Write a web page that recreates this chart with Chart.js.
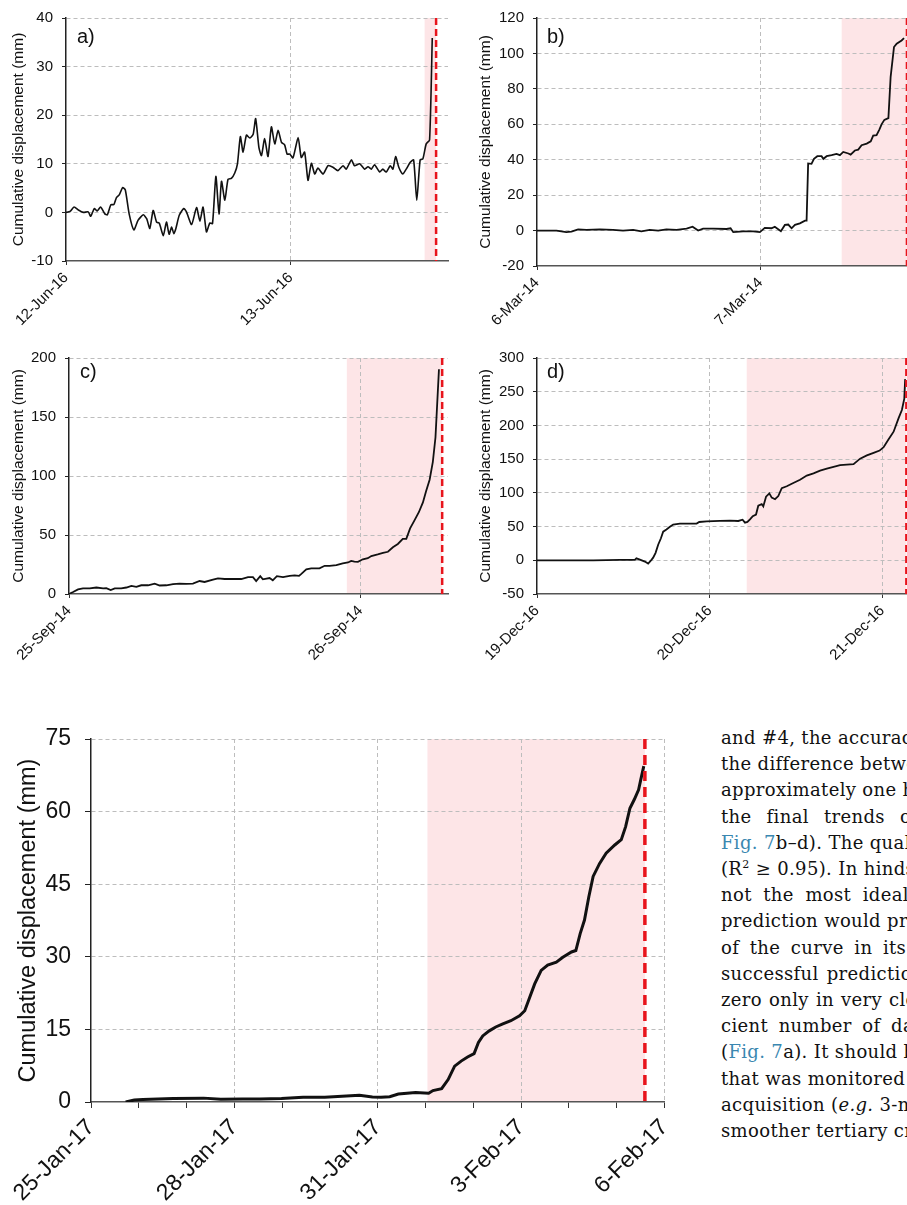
<!DOCTYPE html>
<html>
<head>
<meta charset="utf-8">
<script src="https://cdn.jsdelivr.net/npm/chart.js@4.4.0/dist/chart.umd.min.js"></script>
<style>
  html, body { margin: 0; padding: 0; background: #fff; }
  body { width: 907px; height: 1205px; overflow: hidden; position: relative; }
  canvas { position: absolute; }
  .tag { position: absolute; font: 20px 'Liberation Sans', Arial, sans-serif; line-height: 20px; color: #111; }
  #text { position: absolute; left: 721px; top: 725px; font-family: 'DejaVu Serif', serif; font-size: 18px;
          letter-spacing: 0.35px; line-height: 26.2px; color: #111; white-space: nowrap; }
  #text a { color: #3a87b0; text-decoration: none; }
  #text sup { font-size: 11px; line-height: 0; }
</style>
</head>
<body>
<canvas id="chartA" width="460" height="340" style="left:0;top:0"></canvas>
<canvas id="chartB" width="470" height="340" style="left:460px;top:0"></canvas>
<canvas id="chartC" width="460" height="330" style="left:0;top:340px"></canvas>
<canvas id="chartD" width="470" height="330" style="left:460px;top:340px"></canvas>
<canvas id="chartE" width="690" height="505" style="left:0;top:700px"></canvas>

<div class="tag" style="left:77px;top:26px">a)</div>
<div class="tag" style="left:547px;top:26px">b)</div>
<div class="tag" style="left:80px;top:361px">c)</div>
<div class="tag" style="left:547px;top:361px">d)</div>

<div id="text">
  <div>and #4, the accuracy</div>
  <div>the difference between</div>
  <div>approximately one hour</div>
  <div style="word-spacing:9px">the final trends of</div>
  <div><a>Fig. 7</a>b–d). The quality</div>
  <div>(R<sup>2</sup> ≥ 0.95). In hindsight,</div>
  <div style="word-spacing:5.5px">not the most ideal</div>
  <div>prediction would provide</div>
  <div style="word-spacing:4.5px">of the curve in its</div>
  <div style="word-spacing:2px">successful prediction</div>
  <div style="word-spacing:1px">zero only in very close</div>
  <div style="word-spacing:4.5px">cient number of data</div>
  <div>(<a>Fig. 7</a>a). It should be</div>
  <div>that was monitored by</div>
  <div>acquisition (<i>e.g.</i> 3-min</div>
  <div>smoother tertiary creep</div>
</div>

<script>
// time since start of each record (days) and cumulative displacement (mm)
const aDays = [0, 0.018, 0.036, 0.055, 0.077, 0.099, 0.110, 0.126, 0.139, 0.154, 0.173, 0.184, 0.200, 0.213, 0.225,
  0.237, 0.252, 0.264, 0.281, 0.302, 0.321, 0.344, 0.359, 0.373, 0.388, 0.403, 0.415, 0.433, 0.447, 0.459, 0.470,
  0.480, 0.489, 0.504, 0.524, 0.536, 0.559, 0.581, 0.596, 0.610, 0.625, 0.640, 0.652, 0.667, 0.681, 0.692, 0.707,
  0.721, 0.736, 0.751, 0.763, 0.776, 0.788, 0.803, 0.818, 0.833, 0.844, 0.859, 0.870, 0.884, 0.899, 0.914, 0.929,
  0.944, 0.959, 0.973, 0.984, 0.996, 1.010, 1.033, 1.047, 1.062, 1.077, 1.092, 1.107, 1.121, 1.144, 1.166, 1.188,
  1.210, 1.233, 1.247, 1.270, 1.284, 1.307, 1.329, 1.344, 1.359, 1.373, 1.396, 1.410, 1.425, 1.443, 1.455, 1.467,
  1.481, 1.499, 1.514, 1.532, 1.547, 1.561, 1.576, 1.588, 1.603, 1.618, 1.630];
const aDisp = [0, 0.2, 1.1, 0.5, 0, 0.1, -0.8, 0.8, 0.3, 1.1, -0.3, -0.5, 1.6, 1.6, 3.1, 3.6, 5.1, 4.6, -0.3, -3.6,
  -1.6, -0.5, -1.3, -3.3, 0.4, -2.0, -2.2, -4.8, -2.0, -4.5, -3.0, -4.4, -3.3, -0.6, 0.8, 0.1, -2.5, 1.0, -1.8, 1.1,
  -4.0, -2.2, -2.3, 7.4, -0.3, 6.4, 2.5, 6.8, 7.0, 8.1, 10.0, 15.6, 12.4, 15.9, 15.3, 16.1, 19.3, 13.2, 11.7, 15.2,
  11.5, 17.6, 14.1, 16.9, 14.4, 13.9, 12.0, 12.0, 11.2, 15.4, 11.3, 12.4, 6.6, 10.1, 7.9, 9.1, 7.9, 9.6, 9.3, 8.6,
  9.6, 8.9, 10.8, 9.6, 10.0, 8.9, 9.4, 8.9, 9.8, 8.3, 8.9, 8.3, 9.6, 8.9, 11.5, 9.3, 7.9, 8.9, 10.3, 10.8, 2.5, 10.8,
  11.0, 14.1, 14.9, 35.9];

const bDays = [0, 0.042, 0.087, 0.131, 0.154, 0.184, 0.221, 0.281, 0.340, 0.385, 0.430, 0.467, 0.504, 0.542, 0.579,
  0.624, 0.669, 0.696, 0.721, 0.743, 0.788, 0.848, 0.866, 0.878, 0.922, 0.967, 0.997, 1.019, 1.049, 1.064, 1.091,
  1.109, 1.124, 1.139, 1.154, 1.176, 1.199, 1.206, 1.213, 1.228, 1.239, 1.254, 1.273, 1.281, 1.296, 1.318, 1.340,
  1.355, 1.370, 1.393, 1.403, 1.422, 1.437, 1.452, 1.475, 1.493, 1.504, 1.519, 1.531, 1.542, 1.554, 1.572, 1.582,
  1.597, 1.609, 1.631, 1.642];
const bDisp = [0, 0, 0, -0.9, -0.6, 0.7, 0.4, 0.7, 0.4, 0, 0.4, -0.4, 0.4, 0, 0.7, 0.4, 1.1, 2.2, 0, 1.1, 1.1, 0.9,
  1.3, -0.9, -0.4, -0.4, -0.9, 1.5, 1.3, 2.2, -0.4, 3.2, 3.4, 1.3, 3.2, 4.1, 5.6, 5.6, 37.9, 37.7, 40.5, 42.0, 42.0,
  40.5, 42.0, 42.6, 43.3, 42.6, 44.4, 43.5, 42.9, 45.2, 45.7, 48.2, 49.1, 50.4, 53.6, 53.8, 56.9, 60.1, 62.5, 63.5,
  86.8, 103.6, 105.5, 107.3, 108.6];

const cDays = [0, 0.014, 0.031, 0.048, 0.071, 0.094, 0.117, 0.128, 0.143, 0.157, 0.179, 0.197, 0.214, 0.231, 0.248,
  0.271, 0.294, 0.311, 0.334, 0.357, 0.379, 0.402, 0.425, 0.448, 0.465, 0.494, 0.511, 0.534, 0.562, 0.591, 0.614,
  0.631, 0.642, 0.656, 0.665, 0.688, 0.699, 0.713, 0.734, 0.757, 0.774, 0.789, 0.797, 0.814, 0.831, 0.859, 0.877,
  0.894, 0.917, 0.939, 0.957, 0.968, 0.979, 0.991, 1.008, 1.025, 1.037, 1.059, 1.077, 1.094, 1.111, 1.128, 1.145,
  1.157, 1.170, 1.185, 1.200, 1.214, 1.225, 1.237, 1.248, 1.257, 1.269];
const cDisp = [0, 1.7, 3.9, 4.8, 4.8, 5.5, 4.8, 5.0, 3.3, 4.8, 4.8, 5.5, 6.9, 6.1, 7.4, 7.4, 8.8, 7.2, 7.4, 8.3,
  8.8, 8.5, 8.8, 11.0, 10.2, 12.1, 13.2, 12.7, 12.9, 12.7, 14.3, 14.3, 11.0, 15.1, 12.4, 13.5, 11.6, 15.1, 14.3,
  15.4, 15.7, 15.4, 17.1, 20.9, 21.7, 21.7, 23.9, 23.9, 24.5, 25.9, 26.7, 28.1, 27.5, 27.2, 29.4, 30.3, 32.2, 33.6,
  34.9, 35.8, 39.6, 42.4, 46.8, 46.8, 55.6, 62.4, 69.3, 77.6, 87.2, 96.8, 112.0, 132.6, 190.4];

const dDays = [0, 0.132, 0.325, 0.480, 0.567, 0.576, 0.596, 0.625, 0.644, 0.658, 0.673, 0.687, 0.702, 0.718, 0.731,
  0.750, 0.770, 0.789, 0.828, 0.886, 0.925, 0.940, 0.983, 1.060, 1.118, 1.166, 1.191, 1.205, 1.219, 1.234, 1.250,
  1.269, 1.282, 1.302, 1.311, 1.327, 1.346, 1.360, 1.379, 1.398, 1.418, 1.447, 1.485, 1.524, 1.563, 1.602, 1.640,
  1.679, 1.718, 1.756, 1.795, 1.834, 1.872, 1.911, 1.950, 1.985, 2.008, 2.037, 2.066, 2.095, 2.114, 2.128, 2.133];
const dDisp = [0, 0, 0, 0.5, 0.5, 2.9, 1.0, -1.9, -4.8, -1.0, 3.9, 11.1, 23.1, 32.7, 42.4, 45.7, 49.6, 53.0, 54.4,
  54.4, 54.4, 56.8, 57.8, 58.3, 58.7, 58.3, 60.2, 55.8, 56.8, 60.7, 65.5, 67.9, 80.9, 83.3, 79.9, 94.4, 99.2, 92.9,
  90.5, 95.3, 106.9, 109.8, 114.6, 119.4, 125.7, 129.0, 132.9, 135.8, 138.7, 141.1, 142.0, 142.5, 150.7, 155.5,
  159.4, 162.7, 167.6, 179.6, 190.7, 210.9, 222.9, 239.8, 268.7];

const eDays = [0.725, 0.906, 1.087, 1.721, 2.355, 2.717, 3.170, 3.533, 3.986, 4.438, 4.891, 5.344, 5.616, 5.888,
  6.069, 6.250, 6.431, 6.793, 7.065, 7.156, 7.337, 7.473, 7.609, 7.745, 7.880, 8.016, 8.107, 8.197, 8.333, 8.469,
  8.605, 8.786, 8.967, 9.076, 9.167, 9.284, 9.420, 9.556, 9.737, 9.873, 10.054, 10.145, 10.236, 10.326, 10.417,
  10.507, 10.643, 10.779, 10.960, 11.096, 11.187, 11.277, 11.368, 11.458, 11.504, 11.567];
const eDisp = [0, 0.4, 0.5, 0.7, 0.8, 0.55, 0.6, 0.6, 0.7, 1.0, 1.0, 1.25, 1.4, 1.05, 1.0, 1.1, 1.66, 1.94, 1.8,
  2.36, 2.77, 4.64, 7.4, 8.45, 9.3, 10.0, 12.3, 13.65, 14.7, 15.5, 16.1, 16.8, 17.8, 18.85, 21.3, 24.4, 27.2, 28.3,
  28.9, 29.9, 31.0, 31.3, 34.8, 37.6, 42.4, 46.6, 49.3, 51.4, 53.1, 54.2, 56.9, 60.7, 62.5, 64.5, 66.6, 69.4];

// date tick labels, one per day from the start of each record
const aLabels = ['12-Jun-16', '13-Jun-16'];
const bLabels = ['6-Mar-14', '7-Mar-14'];
const cLabels = ['25-Sep-14', '26-Sep-14'];
const dLabels = ['19-Dec-16', '20-Dec-16', '21-Dec-16'];
const eLabels = ['25-Jan-17', '', '', '28-Jan-17', '', '', '31-Jan-17', '', '', '3-Feb-17', '', '', '6-Feb-17'];

const aTicksY = [-10, 0, 10, 20, 30, 40];
const bTicksY = [-20, 0, 20, 40, 60, 80, 100, 120];
const cTicksY = [0, 50, 100, 150, 200];
const dTicksY = [-50, 0, 50, 100, 150, 200, 250, 300];
const eTicksY = [0, 15, 30, 45, 60, 75];

// [start of prediction window, time of failure] in days
const aWindow = [1.596, 1.647];
const bWindow = [1.363, 1.655];
const cWindow = [0.953, 1.280];
const dWindow = [1.215, 2.140];
const eWindow = [7.04, 11.59];

const FONT = "'Liberation Sans', Arial, Helvetica, sans-serif";
const GRID = '#bdbdbd';
const YTITLE = 'Cumulative displacement (mm)';

const failurePlugin = {
  id: 'failure',
  beforeDraw(chart, args, o) {
    const { ctx, chartArea, scales: { x } } = chart;
    const x0 = x.getPixelForValue(o.start), x1 = x.getPixelForValue(o.end);
    ctx.save();
    ctx.fillStyle = '#fde5e7';
    ctx.fillRect(x0, chartArea.top, x1 - x0, chartArea.bottom - chartArea.top);
    ctx.restore();
  },
  afterDatasetsDraw(chart, args, o) {
    const { ctx, chartArea, scales: { x } } = chart;
    const px = x.getPixelForValue(o.end);
    ctx.save();
    ctx.strokeStyle = '#e8141c';
    ctx.lineWidth = o.width;
    ctx.setLineDash(o.dash);
    ctx.beginPath();
    ctx.moveTo(px, chartArea.top);
    ctx.lineTo(px, chartArea.bottom);
    ctx.stroke();
    ctx.restore();
  }
};

function makeChart(id, cfg) {
  const ctx = document.getElementById(id).getContext('2d');
  const pts = cfg.x.map((d, i) => ({ x: d, y: cfg.y[i] }));
  const yMin = cfg.yTicks[0], yMax = cfg.yTicks[cfg.yTicks.length - 1];
  return new Chart(ctx, {
    type: 'line',
    data: {
      datasets: [{
        data: pts,
        borderColor: '#111',
        borderWidth: cfg.lineWidth,
        pointRadius: 0,
        tension: cfg.tension,
        fill: false
      }]
    },
    options: {
      responsive: false,
      animation: false,
      layout: { padding: { top: cfg.padTop, right: cfg.padRight, left: 0, bottom: 0 } },
      plugins: {
        legend: { display: false },
        tooltip: { enabled: false },
        failure: { start: cfg.window[0], end: cfg.window[1], width: cfg.failWidth, dash: cfg.failDash }
      },
      scales: {
        x: {
          type: 'linear',
          min: 0,
          max: cfg.xMax,
          afterBuildTicks: s => { s.ticks = cfg.xLabels.map((l, i) => ({ value: i })); },
          afterFit: s => { s.height = cfg.xHeight; },
          ticks: {
            autoSkip: false, minRotation: 45, maxRotation: 45, padding: cfg.xPad, color: '#111',
            font: { family: FONT, size: cfg.fontSize },
            callback: (v, i) => cfg.xLabels[i]
          },
          grid: {
            color: c => (c.tick && c.tick.value > 0 && cfg.xLabels[c.index] !== '') ? GRID : 'rgba(0,0,0,0)',
            tickColor: '#333', tickLength: cfg.tickLen, lineWidth: 1
          },
          border: { color: '#555', width: 1.5, dash: [4, 3] }
        },
        y: {
          min: yMin,
          max: yMax,
          afterBuildTicks: s => { s.ticks = cfg.yTicks.map(v => ({ value: v })); },
          afterFit: s => { s.width = cfg.yWidth; },
          ticks: { padding: cfg.yPad, color: '#111', font: { family: FONT, size: cfg.fontSize } },
          grid: {
            color: c => (c.tick && c.tick.value > yMin) ? GRID : 'rgba(0,0,0,0)',
            tickColor: '#222', tickLength: cfg.tickLen, lineWidth: 1
          },
          border: { color: '#222', width: 1.5, dash: [4, 3] },
          title: {
            display: true, text: YTITLE, color: '#111',
            font: { family: FONT, size: cfg.titleSize },
            padding: { top: cfg.titlePad, bottom: 0 }
          }
        }
      }
    },
    plugins: [failurePlugin]
  });
}

const small = { lineWidth: 1.8, tension: 0, fontSize: 15, titleSize: 15.5, tickLen: 4, xPad: 4, yPad: 9,
  failWidth: 2.5, failDash: [7, 4] };

makeChart('chartA', Object.assign({}, small, {
  x: aDays, y: aDisp, xLabels: aLabels, yTicks: aTicksY, window: aWindow, xMax: 1.70, tension: 0.2,
  lineWidth: 1.6, yWidth: 66, xHeight: 79, padTop: 17, padRight: 12, titlePad: 9
}));
makeChart('chartB', Object.assign({}, small, {
  x: bDays, y: bDisp, xLabels: bLabels, yTicks: bTicksY, window: bWindow, xMax: 1.691,
  yWidth: 77, xHeight: 74, padTop: 16, padRight: 15, titlePad: 16
}));
makeChart('chartC', Object.assign({}, small, {
  x: cDays, y: cDisp, xLabels: cLabels, yTicks: cTicksY, window: cWindow, xMax: 1.30,
  yWidth: 69, xHeight: 76, padTop: 12, padRight: 12, titlePad: 9
}));
makeChart('chartD', Object.assign({}, small, {
  x: dDays, y: dDisp, xLabels: dLabels, yTicks: dTicksY, window: dWindow, xMax: 2.19,
  yWidth: 77, xHeight: 76, padTop: 12, padRight: 15, titlePad: 16
}));
makeChart('chartE', {
  x: eDays, y: eDisp, xLabels: eLabels, yTicks: eTicksY, window: eWindow, xMax: 12,
  lineWidth: 3, tension: 0, fontSize: 23, titleSize: 23.5, tickLen: 6, xPad: 6, yPad: 14,
  failWidth: 3.5, failDash: [10, 6],
  yWidth: 91, xHeight: 103, padTop: 39, padRight: 23, titlePad: 14
});
</script>
</body>
</html>
